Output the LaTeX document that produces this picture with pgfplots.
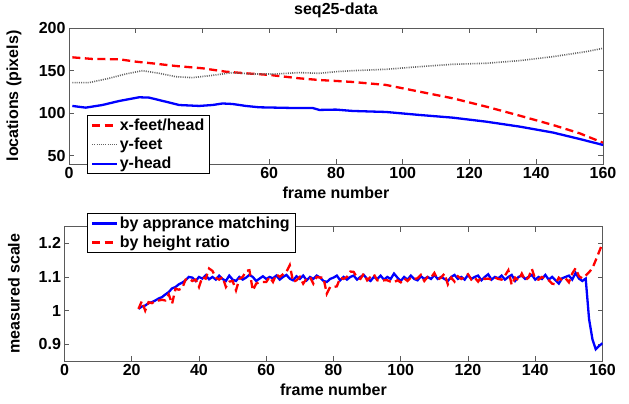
\documentclass[border=0pt]{standalone}
\usepackage{fontspec}
\setmainfont{Liberation Sans}
\usepackage{pgfplots}
\pgfplotsset{compat=1.18}

\definecolor{mblue}{RGB}{0,0,255}
\definecolor{mred}{RGB}{255,0,0}
\definecolor{mgray}{RGB}{100,100,100}
\definecolor{axgray}{RGB}{90,90,90}

\newcommand{\f}{\fontsize{16}{18}\selectfont\bfseries}

\pgfplotsset{
  mystyle/.style={
    scale only axis,
    xmin=0, xmax=160,
    xtick={0,20,...,160},
    tick align=inside,
    tick pos=both,
    major tick length=5pt,
    axis line style={axgray, line width=0.8pt},
    every tick/.style={axgray, line width=0.8pt},
    tick label style={font=\f},
    label style={font=\f},
    /pgf/number format/assume math mode=true,
    legend cell align=left,
    legend style={draw=black, fill=white, line width=0.8pt, font=\f,
      inner xsep=4pt, inner ysep=2pt, row sep=3pt,
      nodes={inner sep=1.5pt}},
    legend image code/.code={\draw[##1] (0pt,0pt) -- (25pt,0pt);},
  },
}

\begin{document}
\begin{tikzpicture}
\useasboundingbox (0,0) rectangle (629pt,404pt);

% upper panel
\begin{axis}[mystyle,
  at={(69pt,240pt)},
  width=534pt, height=136pt,
  ymin=40, ymax=200,
  ytick={50,100,150,200},
  xticklabels={0,,,60,80,100,120,140,160},
  title={seq25-data},
  title style={font=\f, at={(rel axis cs:0.5,1)}, anchor=center, yshift=12pt},
  xlabel={frame number},
  ylabel={locations (pixels)},
  xlabel style={at={(rel axis cs:0.5,-0.213)}, anchor=center},
  ylabel style={at={(rel axis cs:-0.103,0.5)}, anchor=center, rotate=0},
  legend style={at={(rel axis cs:0.033,0.36)}, anchor=north west},
]
\addplot[mred, line width=2.3pt, dash pattern=on 8pt off 4.5pt] coordinates {
  (1,165.5) (7,163.6) (15,163.2) (20,160.4) (25,158.4) (32,155.3) (40,152.6)
  (47,148.6) (53,146.7) (60,144.8) (69,140.8) (75,138.8) (80,137.7) (85,136.5)
  (95,133.0) (105,125.1) (115,117.3) (125,107.5) (135,96.9) (145,85.9)
  (153,76.1) (160,65.0)
};
\addlegendentry{x-feet/head}
\addplot[mgray, line width=1.6pt, dash pattern=on 1pt off 1.2pt] coordinates {
  (1,135.7) (6,135.7) (12,140.8) (17,145.9) (22,149.8) (27,146.7) (32,142.7)
  (37,141.6) (43,144.3) (49,147.5) (55,145.9) (62,145.9) (69,147.5) (75,146.7)
  (80,148.6) (85,149.8) (95,151.4) (105,154.5) (115,157.3) (125,158.5)
  (135,161.6) (145,166.3) (155,172.2) (160,176.1)
};
\addlegendentry{y-feet}
\addplot[mblue, line width=2.3pt] coordinates {
  (1,108.3) (5,106.3) (10,109.4) (15,114.1) (21,118.5) (24,118.1) (29,113.3)
  (33,109.4) (39,108.3) (43,109.4) (46,111.2) (49,110.6) (53,108.3) (57,106.7)
  (67,105.9) (73,105.9) (75,103.6) (80,104.0) (85,102.4) (95,101.2)
  (105,97.7) (115,94.5) (125,89.8) (135,84.0) (145,77.0) (153,69.4) (160,62.4)
};
\addlegendentry{y-head}
\end{axis}

% lower panel
\begin{axis}[mystyle,
  at={(64.5pt,43pt)},
  width=538pt, height=134.5pt,
  ymin=0.85, ymax=1.25,
  ytick={0.9,1,1.1,1.2},
  xlabel={frame number},
  ylabel={measured scale},
  xlabel style={at={(rel axis cs:0.5,-0.216)}, anchor=center},
  ylabel style={at={(rel axis cs:-0.094,0.5)}, anchor=center, rotate=0},
  legend style={at={(rel axis cs:0.041,1.1)}, anchor=north west},
]
\addplot[mblue, line width=2.3pt] coordinates {
  (22,1.005) (23,1.012) (24,1.015) (25,1.022) (26,1.025) (27,1.030) (28,1.036)
  (29,1.040) (30,1.048) (31,1.055) (32,1.066) (33,1.070) (34,1.078) (35,1.083)
  (36,1.090) (37,1.100) (38,1.098) (39,1.088) (40,1.100) (41,1.095) (42,1.105)
  (43,1.093) (44,1.100) (45,1.092) (46,1.104) (47,1.094) (48,1.088) (49,1.104)
  (50,1.092) (51,1.088) (52,1.100) (53,1.092) (54,1.098) (55,1.106) (56,1.100)
  (57,1.088) (58,1.095) (59,1.102) (60,1.094) (61,1.100) (62,1.096) (63,1.104)
  (64,1.092) (65,1.100) (66,1.106) (67,1.095) (68,1.090) (69,1.102) (70,1.094)
  (71,1.104) (72,1.090) (73,1.100) (74,1.094) (75,1.104) (76,1.098) (77,1.088)
  (78,1.085) (79,1.094) (80,1.098) (81,1.104) (82,1.090) (83,1.100) (84,1.092)
  (85,1.100) (86,1.104) (87,1.092) (88,1.100) (89,1.106) (90,1.094) (91,1.088)
  (92,1.100) (93,1.094) (94,1.104) (95,1.092) (96,1.100) (97,1.094) (98,1.110)
  (99,1.098) (100,1.088) (101,1.100) (102,1.092) (103,1.104) (104,1.094)
  (105,1.090) (106,1.102) (107,1.094) (108,1.100) (109,1.094) (110,1.106)
  (111,1.094) (112,1.100) (113,1.094) (114,1.088) (115,1.100) (116,1.106)
  (117,1.094) (118,1.100) (119,1.092) (120,1.106) (121,1.094) (122,1.100)
  (123,1.104) (124,1.090) (125,1.100) (126,1.108) (127,1.092) (128,1.100)
  (129,1.096) (130,1.104) (131,1.092) (132,1.100) (133,1.106) (134,1.088)
  (135,1.100) (136,1.104) (137,1.094) (138,1.100) (139,1.106) (140,1.092)
  (141,1.100) (142,1.094) (143,1.106) (144,1.092) (145,1.100) (146,1.090)
  (147,1.080) (148,1.096) (149,1.100) (150,1.104) (151,1.092) (152,1.112)
  (153,1.095) (154,1.088) (155,1.095) (156,0.975) (157,0.915) (158,0.885)
  (159,0.895) (160,0.903)
};
\addlegendentry{by apprance matching}
\addplot[mred, line width=2.3pt, dash pattern=on 8pt off 4.5pt] coordinates {
  (22,1.005) (23,1.028) (24,1.000) (25,1.025) (26,1.022) (27,1.028) (28,1.030)
  (29,1.032) (30,1.030) (31,1.048) (32,1.020) (33,1.065) (34,1.062) (35,1.066)
  (36,1.092) (37,1.095) (38,1.088) (39,1.092) (40,1.070) (41,1.100) (42,1.095)
  (43,1.125) (44,1.118) (45,1.098) (46,1.092) (47,1.100) (48,1.070) (49,1.086)
  (50,1.088) (51,1.060) (52,1.094) (53,1.100) (54,1.118) (55,1.120) (56,1.060)
  (57,1.080) (58,1.085) (59,1.085) (60,1.085) (61,1.100) (62,1.085) (63,1.108)
  (64,1.100) (65,1.108) (66,1.115) (67,1.135) (68,1.085) (69,1.090) (70,1.100)
  (71,1.080) (72,1.095) (73,1.100) (74,1.080) (75,1.100) (76,1.098) (77,1.098)
  (78,1.050) (79,1.070) (80,1.070) (81,1.072) (82,1.098) (83,1.094) (84,1.100)
  (85,1.116) (86,1.115) (87,1.098) (88,1.094) (89,1.110) (90,1.090) (91,1.100)
  (92,1.108) (93,1.090) (94,1.088) (95,1.090) (96,1.090) (97,1.086) (98,1.084)
  (99,1.090) (100,1.084) (101,1.096) (102,1.088) (103,1.098) (104,1.094)
  (105,1.096) (106,1.106) (107,1.088) (108,1.100) (109,1.098) (110,1.112)
  (111,1.092) (112,1.098) (113,1.110) (114,1.078) (115,1.098) (116,1.086)
  (117,1.102) (118,1.094) (119,1.100) (120,1.108) (121,1.092) (122,1.098)
  (123,1.086) (124,1.100) (125,1.094) (126,1.095) (127,1.092) (128,1.098)
  (129,1.094) (130,1.092) (131,1.104) (132,1.120) (133,1.076) (134,1.098)
  (135,1.090) (136,1.110) (137,1.090) (138,1.098) (139,1.124) (140,1.094)
  (141,1.092) (142,1.100) (143,1.094) (144,1.090) (145,1.080) (146,1.078)
  (147,1.098) (148,1.090) (149,1.096) (150,1.084) (151,1.110) (152,1.126)
  (153,1.102) (154,1.096) (155,1.104) (156,1.114) (157,1.126) (158,1.150)
  (159,1.175) (160,1.200)
};
\addlegendentry{by height ratio}
\end{axis}
\end{tikzpicture}
\end{document}
